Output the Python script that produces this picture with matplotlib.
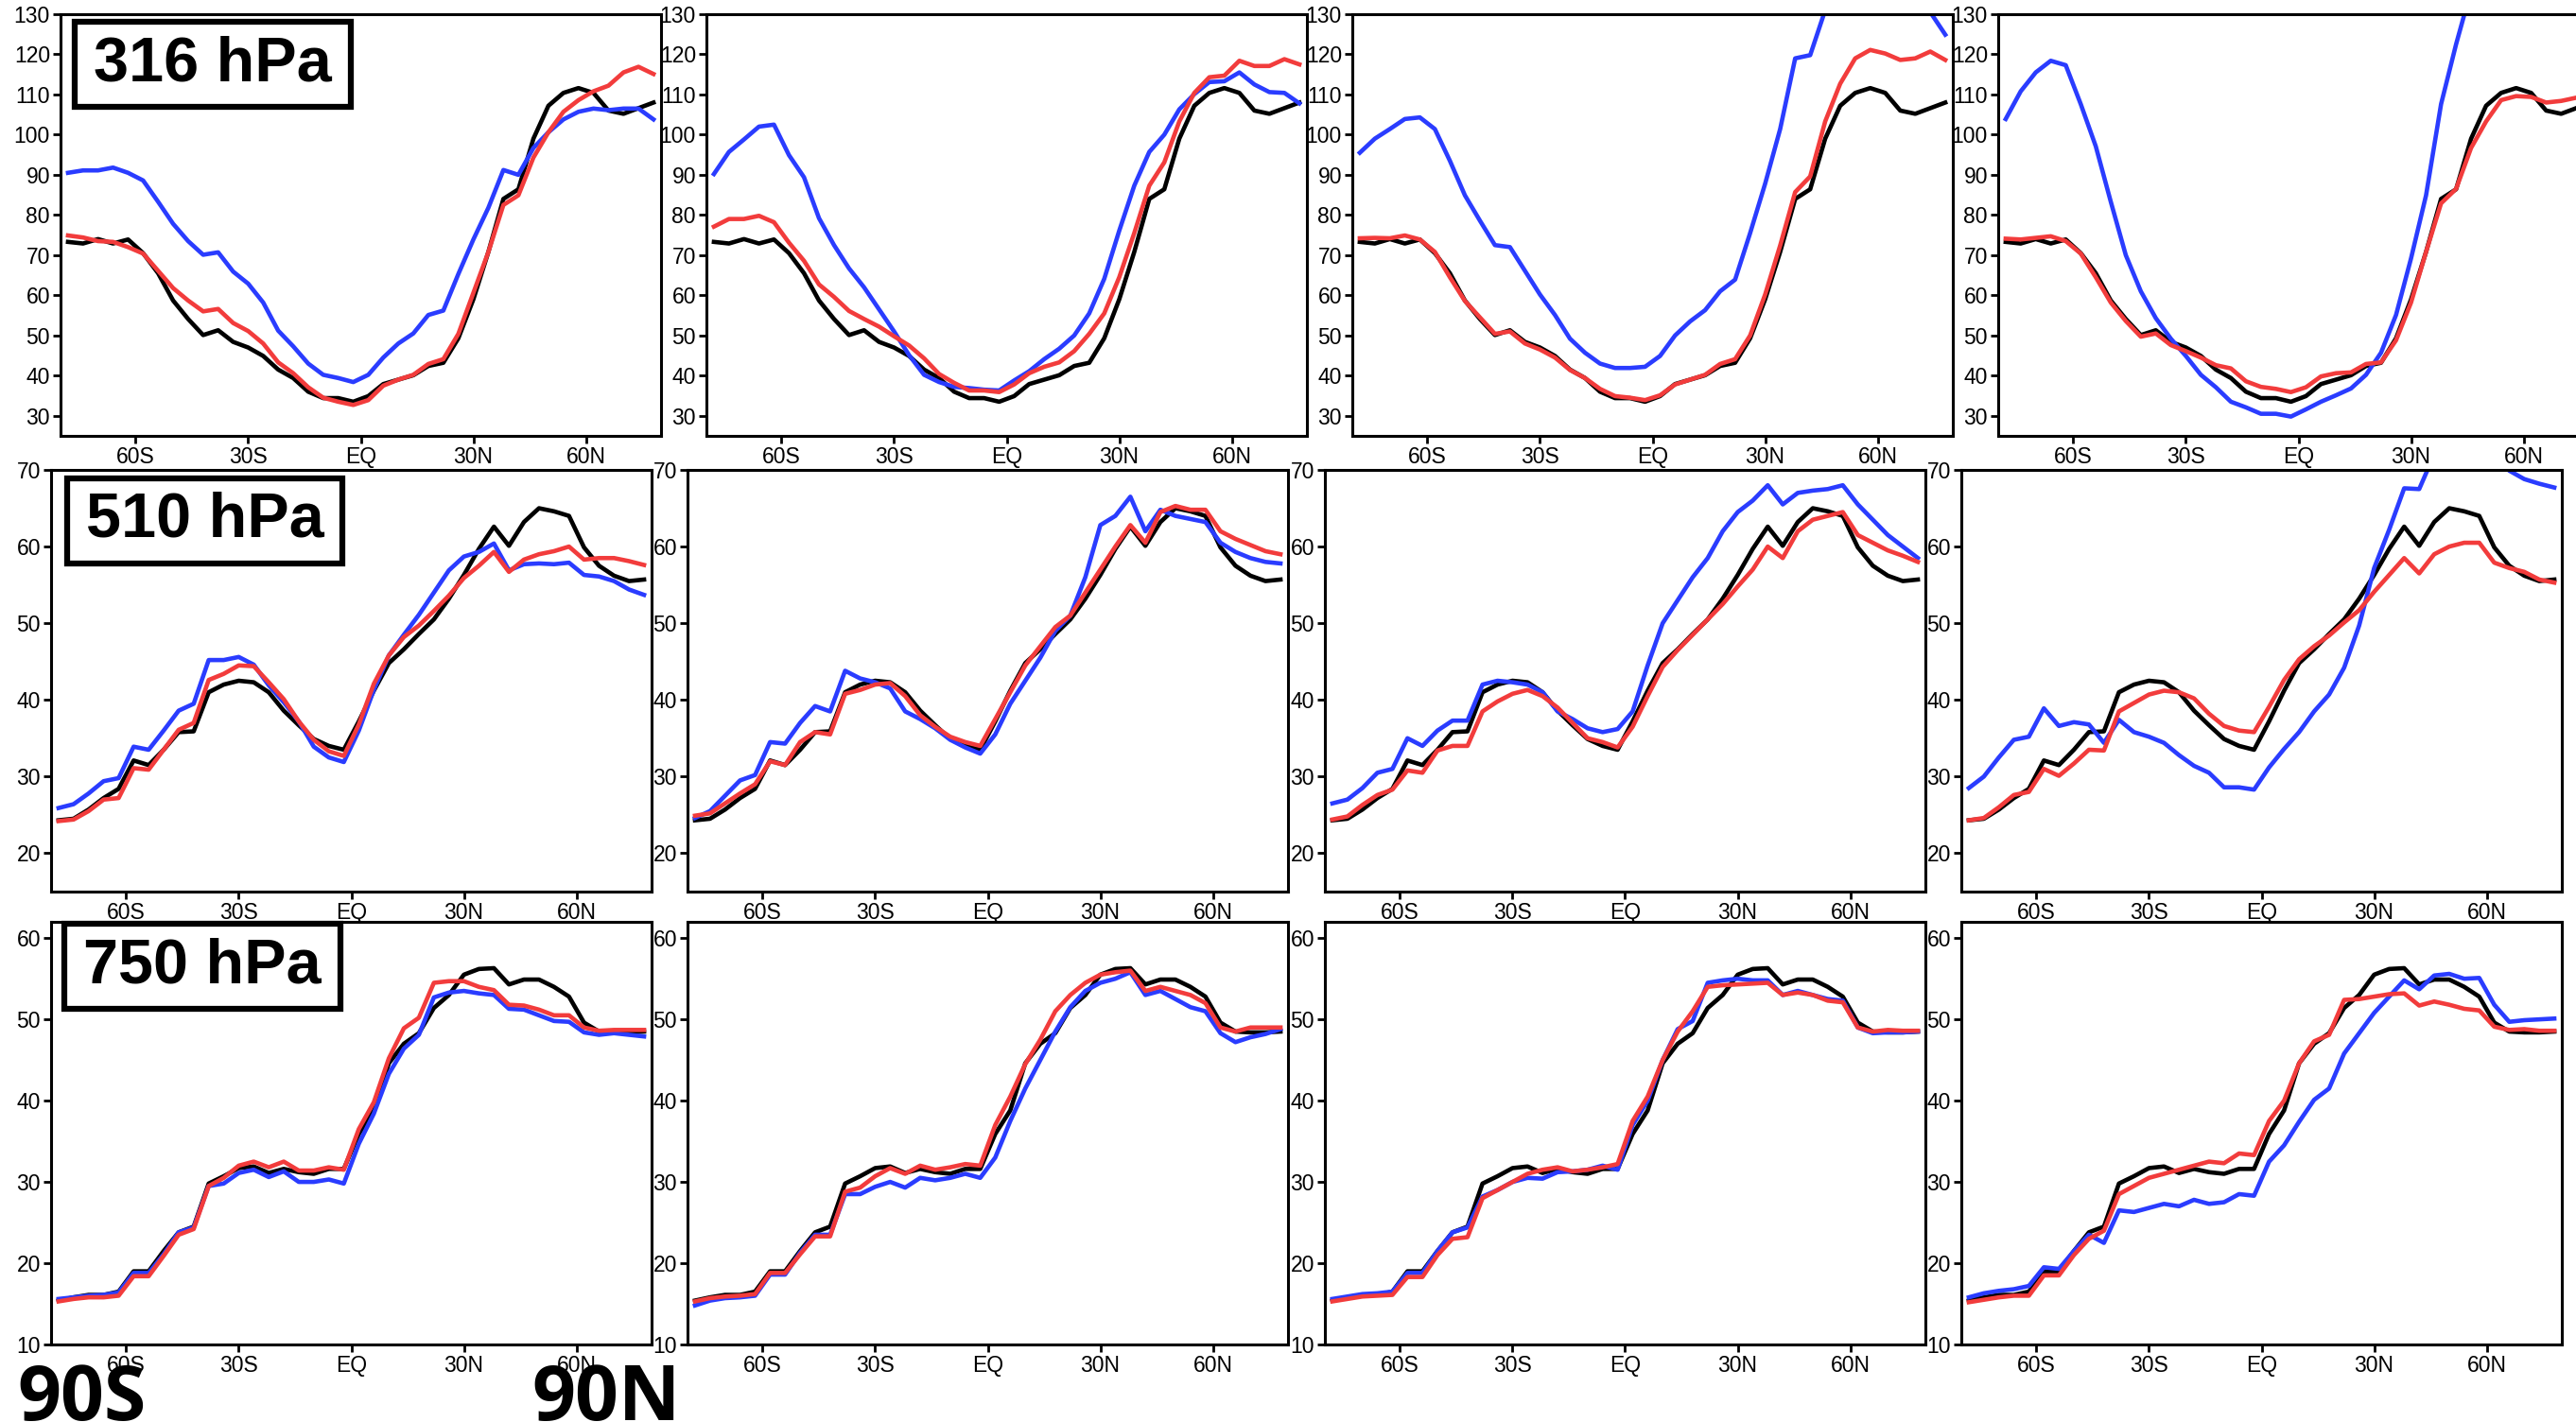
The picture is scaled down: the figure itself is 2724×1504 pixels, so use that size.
import numpy as np
import matplotlib
matplotlib.use('Agg')
import matplotlib.pyplot as plt
from matplotlib.patches import Rectangle

lats = np.arange(-78, 79, 4)

# reference (black) profile, same in every panel of a row
obs_316 = [73.3, 72.9, 74.0, 72.9, 73.9, 70.5, 65.5, 58.7, 54.1, 50.1,
           51.3, 48.4, 47.0, 44.9, 41.5, 39.4, 36.0, 34.4, 34.4, 33.5,
           34.9, 37.9, 39.0, 40.1, 42.4, 43.2, 49.3, 59.0, 70.8, 84.0,
           86.4, 99.0, 107.2, 110.4, 111.6, 110.4, 106.0, 105.2, 106.6, 108.0]
obs_510 = [24.3, 24.5, 25.7, 27.2, 28.4, 32.1, 31.5, 33.5, 35.8, 35.9,
           41.0, 42.0, 42.5, 42.3, 41.0, 38.6, 36.7, 34.9, 34.0, 33.5,
           37.2, 41.2, 44.8, 46.6, 48.6, 50.5, 53.2, 56.3, 59.7, 62.6,
           60.1, 63.2, 65.0, 64.6, 64.0, 59.9, 57.5, 56.2, 55.5, 55.7]
obs_750 = [15.4, 15.8, 16.1, 16.1, 16.5, 19.0, 19.0, 21.5, 23.8, 24.5,
           29.8, 30.7, 31.7, 31.9, 31.1, 31.6, 31.2, 31.0, 31.6, 31.6,
           35.9, 38.8, 44.6, 47.0, 48.3, 51.4, 53.0, 55.5, 56.2, 56.3,
           54.3, 54.9, 54.9, 54.0, 52.8, 49.6, 48.5, 48.4, 48.4, 48.5]

# model runs, one list per column
red_316 = [
    [74.9, 74.4, 73.5, 73.3, 72.0, 70.4, 66.1, 61.8, 58.7, 56.0,
     56.6, 53.1, 51.1, 48.0, 43.3, 40.6, 37.1, 34.5, 33.5, 32.7,
     33.9, 37.5, 39.0, 40.2, 42.9, 44.1, 50.4, 60.6, 70.8, 82.5,
     84.9, 94.3, 100.6, 105.7, 108.6, 110.8, 112.2, 115.5, 116.9, 115.1],
    [77.1, 79.0, 79.0, 79.8, 78.2, 73.1, 68.6, 62.7, 59.6, 56.1,
     54.1, 52.2, 49.8, 47.5, 44.3, 40.4, 38.2, 36.3, 36.3, 35.9,
     37.8, 40.6, 42.2, 43.3, 46.1, 50.4, 55.5, 64.5, 75.5, 87.3,
     93.1, 103.3, 110.4, 114.3, 114.7, 118.4, 117.1, 117.1, 118.8, 117.5],
    [74.2, 74.3, 74.2, 74.9, 73.9, 70.8, 64.5, 58.6, 54.5, 50.4,
     51.0, 48.0, 46.5, 44.5, 41.4, 39.4, 36.7, 34.9, 34.5, 33.9,
     35.1, 37.8, 39.0, 40.2, 42.9, 44.1, 50.0, 60.2, 72.4, 85.7,
     89.6, 103.3, 112.7, 119.0, 121.1, 120.2, 118.6, 119.0, 120.7, 118.6],
    [74.1, 73.9, 74.3, 74.7, 73.5, 70.4, 64.5, 58.2, 53.6, 49.7,
     50.5, 47.6, 46.1, 44.5, 42.6, 41.8, 38.6, 37.2, 36.7, 35.9,
     37.1, 39.8, 40.6, 40.8, 42.9, 43.3, 48.8, 58.2, 70.8, 82.9,
     86.5, 96.7, 103.3, 108.6, 109.6, 109.4, 108.0, 108.4, 109.2, 109.8],
]
blue_316 = [
    [90.5, 91.1, 91.1, 91.8, 90.5, 88.6, 83.3, 77.8, 73.5, 70.1,
     70.7, 65.9, 62.9, 58.2, 51.2, 47.3, 43.0, 40.2, 39.4, 38.4,
     40.2, 44.5, 48.0, 50.5, 55.1, 56.2, 65.3, 73.9, 81.8, 91.2,
     90.0, 96.7, 100.6, 103.8, 105.7, 106.5, 106.1, 106.5, 106.5, 103.8],
    [90.2, 95.7, 98.8, 102.0, 102.5, 94.9, 89.4, 79.2, 72.5, 66.7,
     62.0, 56.5, 51.0, 45.1, 40.2, 38.4, 37.2, 36.9, 36.5, 36.3,
     38.8, 41.1, 44.1, 46.7, 50.0, 55.5, 64.1, 76.1, 87.3, 95.7,
     100.0, 106.3, 110.1, 113.1, 113.3, 115.5, 112.5, 110.6, 110.4, 107.8],
    [95.5, 99.0, 101.4, 103.9, 104.3, 101.4, 93.5, 84.9, 78.6, 72.5,
     72.0, 66.1, 60.2, 55.1, 49.2, 45.7, 43.0, 41.9, 41.9, 42.2,
     44.9, 50.0, 53.5, 56.3, 61.0, 63.9, 75.5, 87.8, 101.4, 119.0,
     119.8, 131.0, 138.0, 142.0, 143.0, 141.0, 137.0, 134.5, 130.5, 124.9],
    [103.9, 110.8, 115.5, 118.4, 117.3, 107.6, 97.1, 83.3, 70.0, 61.0,
     54.3, 49.2, 44.9, 40.2, 37.1, 33.5, 32.1, 30.5, 30.5, 29.8,
     31.6, 33.5, 35.1, 36.8, 40.2, 45.7, 55.1, 69.2, 84.9, 107.6,
     122.5, 136.0, 145.0, 150.0, 152.0, 151.0, 149.0, 146.0, 143.0, 140.0],
]

red_510 = [
    [24.2, 24.4, 25.5, 27.0, 27.2, 31.1, 30.9, 33.5, 36.1, 37.0,
     42.6, 43.4, 44.5, 44.4, 42.3, 40.1, 37.2, 34.8, 33.3, 32.7,
     36.8, 42.1, 45.8, 48.2, 49.7, 51.6, 53.6, 55.9, 57.5, 59.3,
     56.7, 58.3, 59.0, 59.4, 60.0, 58.3, 58.5, 58.5, 58.1, 57.6],
    [24.9, 25.2, 26.5, 27.8, 29.0, 32.0, 31.5, 34.5, 35.8, 35.5,
     40.8, 41.3, 42.0, 42.2, 40.5, 38.0, 36.5, 35.2, 34.5, 34.0,
     37.5, 41.0, 44.5, 47.0, 49.5, 51.0, 54.0, 57.0, 60.0, 62.8,
     60.5, 64.5, 65.3, 64.8, 64.8, 62.0, 61.0, 60.2, 59.4, 59.0],
    [24.4, 24.8, 26.3, 27.6, 28.3, 30.8, 30.5, 33.4, 34.0, 34.0,
     38.5, 39.8, 40.8, 41.3, 40.5, 39.0, 37.0, 35.0, 34.5, 33.8,
     36.5, 40.5, 44.3, 46.5, 48.5, 50.5, 52.5, 54.8, 57.0, 60.0,
     58.5, 62.0, 63.5, 64.0, 64.5, 61.5, 60.5, 59.5, 58.8, 58.0],
    [24.3, 24.6, 26.0, 27.6, 28.0, 31.0, 30.1, 31.7, 33.5, 33.4,
     38.5, 39.6, 40.7, 41.2, 41.0, 40.2, 38.2, 36.6, 36.0, 35.8,
     39.1, 42.6, 45.3, 47.0, 48.4, 50.1, 51.7, 54.1, 56.3, 58.5,
     56.5, 59.0, 60.0, 60.5, 60.5, 57.9, 57.2, 56.7, 55.7, 55.3],
]
blue_510 = [
    [25.9, 26.4, 27.8, 29.4, 29.8, 33.9, 33.5, 36.0, 38.6, 39.5,
     45.2, 45.2, 45.6, 44.6, 41.9, 39.7, 37.2, 33.9, 32.5, 31.9,
     36.0, 41.3, 45.8, 48.5, 51.1, 54.0, 56.9, 58.7, 59.3, 60.4,
     56.9, 57.7, 57.8, 57.7, 57.9, 56.3, 56.1, 55.5, 54.4, 53.7],
    [24.6, 25.5, 27.5, 29.5, 30.2, 34.5, 34.3, 37.0, 39.2, 38.5,
     43.8, 42.8, 42.3, 41.5, 38.5, 37.5, 36.3, 34.8, 33.8, 33.0,
     35.5, 39.5, 42.5, 45.5, 49.0, 51.0, 56.0, 62.8, 64.0, 66.5,
     62.0, 64.8, 64.0, 63.6, 63.2, 60.5, 59.3, 58.5, 58.0, 57.8],
    [26.5, 27.0, 28.5, 30.5, 31.0, 35.0, 34.0, 36.0, 37.3, 37.3,
     42.0, 42.5, 42.3, 42.0, 41.0, 38.5, 37.5, 36.3, 35.8, 36.2,
     38.5, 44.5, 50.0, 53.0, 56.0, 58.5, 62.0, 64.5, 66.0, 68.0,
     65.5, 67.0, 67.3, 67.5, 68.0, 65.5, 63.5, 61.5, 60.0, 58.5],
    [28.5, 30.0, 32.5, 34.8, 35.2, 38.9, 36.6, 37.1, 36.8, 34.4,
     37.4, 35.8, 35.2, 34.4, 32.8, 31.4, 30.5, 28.6, 28.6, 28.3,
     31.2, 33.6, 35.8, 38.5, 40.7, 44.2, 49.7, 57.2, 62.2, 67.6,
     67.5, 72.0, 74.5, 75.5, 75.0, 72.5, 69.9, 68.8, 68.2, 67.7],
]

red_750 = [
    [15.3, 15.6, 15.8, 15.8, 16.0, 18.4, 18.4, 20.9, 23.5, 24.2,
     29.5, 30.5, 32.0, 32.5, 31.8, 32.5, 31.4, 31.4, 31.8, 31.5,
     36.5, 39.8, 45.2, 48.9, 50.2, 54.5, 54.7, 54.7, 54.0, 53.6,
     51.8, 51.7, 51.2, 50.5, 50.5, 49.0, 48.6, 48.7, 48.7, 48.7],
    [15.3, 15.7, 15.9, 16.0, 16.2, 18.8, 18.8, 21.1, 23.3, 23.3,
     28.8, 29.3, 30.7, 31.7, 31.0, 32.0, 31.5, 31.8, 32.2, 32.0,
     37.0, 40.5, 44.5, 47.5, 51.0, 53.0, 54.5, 55.5, 55.8, 56.0,
     53.5, 54.0, 53.5, 53.0, 52.0, 49.0, 48.5, 49.0, 49.0, 49.0],
    [15.3, 15.6, 15.9, 16.0, 16.1, 18.3, 18.3, 21.0, 23.0, 23.2,
     28.0, 29.0, 30.0, 31.0, 31.5, 31.8, 31.3, 31.5, 31.8, 32.2,
     37.5, 40.5, 45.0, 48.5, 51.0, 54.0, 54.2, 54.3, 54.4, 54.5,
     53.0, 53.3, 53.0, 52.3, 52.1, 49.0, 48.5, 48.7, 48.6, 48.6],
    [15.2, 15.5, 15.8, 16.0, 16.0, 18.5, 18.5, 21.0, 23.0, 24.0,
     28.5, 29.5, 30.5, 31.0, 31.5, 32.0, 32.5, 32.3, 33.5, 33.3,
     37.5, 40.0, 44.6, 47.3, 48.1, 52.4, 52.5, 52.8, 53.1, 53.2,
     51.7, 52.2, 51.8, 51.3, 51.1, 49.1, 48.7, 48.8, 48.6, 48.6],
]
blue_750 = [
    [15.6, 15.8, 16.0, 16.1, 16.4, 18.8, 18.8, 21.1, 23.8, 24.4,
     29.5, 29.8, 31.1, 31.5, 30.6, 31.3, 30.0, 30.0, 30.3, 29.8,
     34.7, 38.4, 43.3, 46.4, 48.1, 52.7, 53.3, 53.5, 53.2, 53.0,
     51.3, 51.2, 50.5, 49.8, 49.7, 48.4, 48.1, 48.3, 48.1, 47.9],
    [14.8, 15.4, 15.7, 15.8, 16.0, 18.6, 18.6, 21.3, 23.5, 23.5,
     28.5, 28.5, 29.4, 30.0, 29.3, 30.5, 30.2, 30.5, 31.0, 30.5,
     33.0, 37.5, 41.5, 45.0, 48.5, 51.5, 53.5, 54.5, 55.0, 55.8,
     53.0, 53.5, 52.5, 51.5, 51.0, 48.3, 47.2, 47.8, 48.2, 48.8],
    [15.6, 15.9, 16.2, 16.3, 16.5, 18.8, 18.8, 21.5, 23.8, 24.4,
     28.2, 29.0, 30.0, 30.5, 30.4, 31.2, 31.3, 31.5, 32.0, 31.5,
     37.0, 40.0, 45.0, 48.8, 49.8, 54.5, 54.8, 55.0, 54.8, 54.8,
     53.0, 53.5, 53.0, 52.5, 52.3, 49.0, 48.3, 48.4, 48.4, 48.5],
    [15.8, 16.3, 16.6, 16.8, 17.2, 19.5, 19.3, 21.5, 23.5, 22.5,
     26.5, 26.3, 26.8, 27.3, 27.0, 27.8, 27.3, 27.5, 28.5, 28.3,
     32.5, 34.5, 37.4, 40.1, 41.5, 45.8, 48.3, 50.8, 52.8, 54.8,
     53.7, 55.4, 55.6, 55.0, 55.1, 51.8, 49.7, 49.9, 50.0, 50.1],
]

xticks = [-60, -30, 0, 30, 60]
xticklabels = ['60S', '30S', 'EQ', '30N', '60N']
levels = ['316 hPa', '510 hPa', '750 hPa']

BLACK, BLUE, RED = '#000000', '#2a3cff', '#f23c3c'
TICK_FONT = ['Liberation Sans Narrow', 'Liberation Sans', 'DejaVu Sans']

W, H = 2724, 1504
fig = plt.figure(figsize=(W / 100, H / 100), dpi=100)

# pixel layout of each row: left edges, top, bottom, label box (axes fraction)
rows = [
    dict(obs=obs_316, red=red_316, blue=blue_316, ylim=(25, 130), yticks=range(30, 131, 10),
         lefts=[64, 747, 1430, 2113], top=15, bottom=461, box=(0.024, 0.780, 0.459, 0.202)),
    dict(obs=obs_510, red=red_510, blue=blue_510, ylim=(15, 70), yticks=range(20, 71, 10),
         lefts=[54, 727, 1401, 2074], top=497, bottom=943, box=(0.027, 0.778, 0.458, 0.202)),
    dict(obs=obs_750, red=red_750, blue=blue_750, ylim=(10, 62), yticks=range(10, 61, 10),
         lefts=[54, 727, 1401, 2074], top=975, bottom=1422, box=(0.022, 0.794, 0.460, 0.201)),
]
width = 635

for r, row in enumerate(rows):
    for c in range(4):
        left = row['lefts'][c]
        ax = fig.add_axes([left / W, (H - row['bottom']) / H, width / W,
                           (row['bottom'] - row['top']) / H])
        ax.set_facecolor('none')
        ax.plot(lats, row['obs'], color=BLACK, lw=3.3)
        ax.plot(lats, row['blue'][c], color=BLUE, lw=3.3)
        ax.plot(lats, row['red'][c], color=RED, lw=3.3)
        ax.set_xlim(-80, 80)
        ax.set_ylim(*row['ylim'])
        ax.set_xticks(xticks)
        ax.set_xticklabels(xticklabels)
        ax.set_yticks(list(row['yticks']))
        for lab in ax.get_xticklabels() + ax.get_yticklabels():
            lab.set_family(TICK_FONT)
            lab.set_fontsize(16.5)
        ax.tick_params(direction='out', length=6, width=2, pad=2)
        for sp in ax.spines.values():
            sp.set_linewidth(2.2)

        if c == 0:
            bx, by, bw, bh = row['box']
            ax.add_patch(Rectangle((bx, by), bw, bh, transform=ax.transAxes,
                                   facecolor='white', edgecolor='black', lw=4.5,
                                   zorder=5, clip_on=False))
            ax.text(bx + bw / 2, by + bh / 2, levels[r], transform=ax.transAxes,
                    ha='center', va='center', fontsize=48, fontweight='bold',
                    family=['Liberation Sans', 'DejaVu Sans'], zorder=6)

# latitude span markers under the bottom-left panel
fig.text(18 / W, 2 / H, '90S', ha='left', va='baseline', fontsize=58,
         fontweight='bold', family=['Open Sans', 'DejaVu Sans'])
fig.text(562 / W, 2 / H, '90N', ha='left', va='baseline', fontsize=58,
         fontweight='bold', family=['Open Sans', 'DejaVu Sans'])

fig.savefig('out.png', dpi=100, facecolor='white')
